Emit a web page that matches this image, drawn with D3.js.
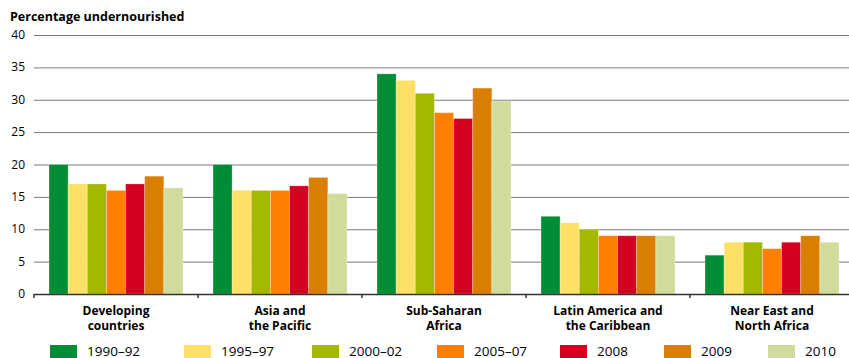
<!DOCTYPE html>
<html>
<head>
<meta charset="utf-8">
<script src="https://cdn.jsdelivr.net/npm/d3@7/dist/d3.min.js"></script>
<style>
  body { margin: 0; background: #fff; }
  svg { display: block; font-family: "Open Sans", sans-serif; }
</style>
</head>
<body>
<svg id="chart" width="849" height="358"></svg>
<script>
const categories = [
  ["Developing", "countries"],
  ["Asia and", "the Pacific"],
  ["Sub-Saharan", "Africa"],
  ["Latin America and", "the Caribbean"],
  ["Near East and", "North Africa"]
];
const seriesNames = ["1990\u201392", "1995\u201397", "2000\u201302", "2005\u201307", "2008", "2009", "2010"];
const seriesColors = ["#008d36", "#ffe066", "#a5b800", "#ff7f00", "#d5001f", "#d97e00", "#d0dc9c"];
const s1990_92 = [20, 20, 34, 12, 6];
const s1995_97 = [17, 16, 33, 11, 8];
const s2000_02 = [17, 16, 31, 10, 8];
const s2005_07 = [16, 16, 28, 9, 7];
const s2008    = [17, 16.7, 27.1, 9, 8];
const s2009    = [18.2, 18, 31.8, 9, 9];
const s2010    = [16.4, 15.5, 29.8, 9, 8];
const seriesValues = [s1990_92, s1995_97, s2000_02, s2005_07, s2008, s2009, s2010];
const yTicks = [0, 5, 10, 15, 20, 25, 30, 35, 40];
const yTitle = "Percentage undernourished";

(function () {
const svg = d3.select("#chart");
const mLeft = 34, mRight = 854, mTop = 35, mBottom = 294;
const legendX = [50, 184, 312, 437, 560, 664, 768];

const x0 = d3.scaleBand().domain(d3.range(categories.length)).range([mLeft, mRight]).padding(0);
const x1 = d3.scaleBand().domain(d3.range(seriesNames.length)).range([15, x0.bandwidth() - 15]).padding(0);
const y = d3.scaleLinear().domain([0, 40]).range([mBottom, mTop]);

// gridlines
svg.append("g").selectAll("line").data(yTicks.filter(d => d > 0)).join("line")
  .attr("x1", mLeft).attr("x2", 849)
  .attr("y1", d => y(d) + 0.5).attr("y2", d => y(d) + 0.5)
  .attr("stroke", "#7a7a7a").attr("stroke-width", 1);

// y tick labels
svg.append("g").selectAll("text").data(yTicks).join("text")
  .attr("x", 25).attr("y", d => y(d) + 4)
  .attr("text-anchor", "end")
  .attr("font-size", 12).attr("fill", "#000")
  .text(d => d);

// title
svg.append("text").attr("x", 10).attr("y", 21)
  .attr("font-size", 12.5).attr("font-weight", "bold").text(yTitle);

// bars
const groups = svg.append("g").selectAll("g").data(categories).join("g")
  .attr("transform", (d, i) => `translate(${x0(i)},0)`);
groups.selectAll("rect").data((d, i) => seriesValues.map((s, k) => ({k, v: s[i]}))).join("rect")
  .attr("x", d => x1(d.k))
  .attr("width", x1.bandwidth())
  .attr("y", d => y(d.v))
  .attr("height", d => y(0) - y(d.v))
  .attr("fill", d => seriesColors[d.k])
  .attr("stroke", "rgba(255,255,255,0.35)").attr("stroke-width", 0.8);

// x axis
const axisG = svg.append("g");
axisG.append("line").attr("x1", mLeft).attr("x2", 849).attr("y1", mBottom + 0.5).attr("y2", mBottom + 0.5)
  .attr("stroke", "#333").attr("stroke-width", 1.5);
axisG.selectAll("line.tick").data(d3.range(categories.length)).join("line")
  .attr("class", "tick")
  .attr("x1", d => x0(d)).attr("x2", d => x0(d))
  .attr("y1", mBottom).attr("y2", mBottom + 4)
  .attr("stroke", "#333").attr("stroke-width", 1.5);

// category labels (one text element per line)
const labLines = [];
categories.forEach((c, i) => c.forEach((line, j) => labLines.push({i, j, line})));
svg.append("g").selectAll("text").data(labLines).join("text")
  .attr("text-anchor", "middle")
  .attr("font-size", 12).attr("font-weight", "bold")
  .attr("x", d => x0(d.i) + x0.bandwidth() / 2)
  .attr("y", d => 315 + d.j * 15)
  .text(d => d.line);

// legend
const leg = svg.append("g").selectAll("g").data(seriesNames).join("g")
  .attr("transform", (d, i) => `translate(${legendX[i]},345)`);
leg.append("rect").attr("width", 27).attr("height", 13).attr("fill", (d, i) => seriesColors[i]);
leg.append("text").attr("x", 37).attr("y", 11).attr("font-size", 13.5).text(d => d);
})();
</script>
</body>
</html>
